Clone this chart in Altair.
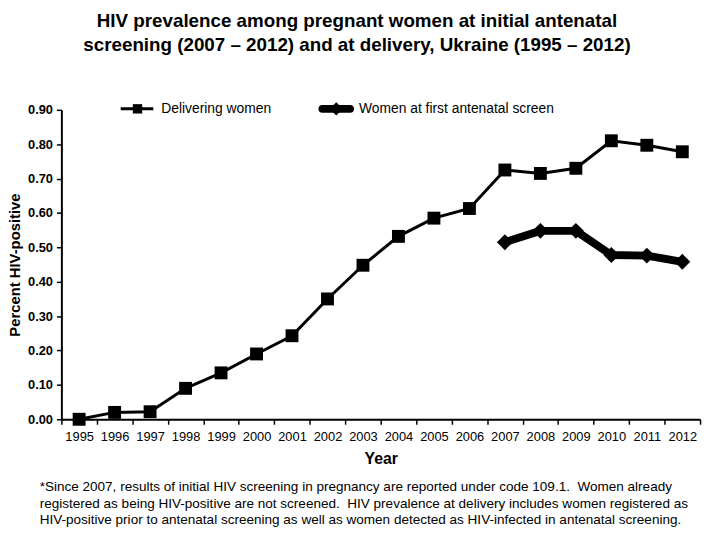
import altair as alt
import pandas as pd

years = list(range(1995, 2013))
delivering = [0.00, 0.020, 0.022, 0.090, 0.135, 0.190, 0.243, 0.350, 0.448, 0.532,
              0.585, 0.613, 0.725, 0.715, 0.730, 0.810, 0.797, 0.778]
antenatal_years = [2007, 2008, 2009, 2010, 2011, 2012]
antenatal = [0.515, 0.548, 0.548, 0.478, 0.476, 0.458]
y_ticks = [0.0, 0.1, 0.2, 0.3, 0.4, 0.5, 0.6, 0.7, 0.8, 0.9]

title_lines = ["HIV prevalence among pregnant women at initial antenatal",
               "screening (2007 \u2013 2012) and at delivery, Ukraine (1995 \u2013 2012)"]
footnote = ("*Since 2007, results of initial HIV screening in pregnancy are reported under code 109.1.\u00a0 Women already\n"
            "registered as being HIV-positive are not screened.\u00a0 HIV prevalence at delivery includes women registered as\n"
            "HIV-positive prior to antenatal screening as well as women detected as HIV-infected in antenatal screening.")

FONT = "Liberation Sans"
W, H = 646, 313

df_d = pd.DataFrame({"Year": years, "Value": delivering})
df_a = pd.DataFrame({"Year": antenatal_years, "Value": antenatal})

x = alt.X("Year:O",
          scale=alt.Scale(type="band", domain=years, paddingInner=0, paddingOuter=0),
          axis=alt.Axis(title="Year", labelAngle=0, tickBand="extent", labelFont=FONT,
                        labelFontSize=13, labelColor="black", titleFont=FONT,
                        titleFontSize=16, titleFontWeight="bold", titleColor="black",
                        domainColor="black", domainWidth=2, tickColor="black",
                        tickWidth=1.5, tickSize=5, labelPadding=6, titlePadding=8))
y = alt.Y("Value:Q",
          scale=alt.Scale(domain=[0, 0.9], nice=False, zero=True),
          axis=alt.Axis(title="Percent HIV-positive", values=y_ticks, format=".2f",
                        labelFont=FONT, labelFontSize=13, labelFontWeight="bold",
                        labelColor="black", titleFont=FONT, titleFontSize=15,
                        titleFontWeight="bold", titleColor="black", domainColor="black",
                        domainWidth=2, tickColor="black", tickWidth=1.5, tickSize=5,
                        labelPadding=4, titlePadding=5, grid=False))

line_d = alt.Chart(df_d).mark_line(color="black", strokeWidth=3).encode(x=x, y=y)
pts_d = alt.Chart(df_d).mark_point(shape="square", filled=True, color="black", opacity=1,
                                   size=170).encode(x=x, y=y)
line_a = alt.Chart(df_a).mark_line(color="black", strokeWidth=8, strokeJoin="round").encode(x=x, y=y)
pts_a = alt.Chart(df_a).mark_point(shape="diamond", filled=True, color="black", opacity=1,
                                   size=260).encode(x=x, y=y)

# legend
leg1 = pd.DataFrame({"label": ["Delivering women"]})
leg2 = pd.DataFrame({"label": ["Women at first antenatal screen"]})
leg1_rule = alt.Chart(leg1).mark_rule(color="black", strokeWidth=3).encode(
    x=alt.value(60), x2=alt.value(93), y=alt.value(-1))
leg1_pt = alt.Chart(leg1).mark_point(shape="square", filled=True, color="black", opacity=1,
                                     size=90).encode(x=alt.value(77), y=alt.value(-1))
leg1_txt = alt.Chart(leg1).mark_text(align="left", baseline="middle", font=FONT, fontSize=14,
                                     color="black").encode(x=alt.value(101), y=alt.value(-1), text="label:N")
leg2_rule = alt.Chart(leg2).mark_rule(color="black", strokeWidth=8, strokeCap="round").encode(
    x=alt.value(264), x2=alt.value(292), y=alt.value(-1))
leg2_pt = alt.Chart(leg2).mark_point(shape="diamond", filled=True, color="black", opacity=1,
                                     size=180).encode(x=alt.value(278), y=alt.value(-1))
leg2_txt = alt.Chart(leg2).mark_text(align="left", baseline="middle", font=FONT, fontSize=14,
                                     color="black").encode(x=alt.value(301), y=alt.value(-1), text="label:N")

foot_df = pd.DataFrame({"t": [footnote]})
foot = alt.Chart(foot_df).mark_text(align="left", baseline="top", font=FONT, fontSize=13.7,
                                    lineBreak="\n", lineHeight=16.5, color="black").encode(
    x=alt.value(-22), y=alt.value(375), text="t:N")

chart = alt.layer(line_d, pts_d, line_a, pts_a, leg1_rule, leg1_pt, leg1_txt,
                  leg2_rule, leg2_pt, leg2_txt, foot).properties(
    width=W, height=H,
    title=alt.TitleParams(title_lines, font=FONT, fontSize=19, fontWeight="bold",
                          color="black", lineHeight=24, anchor="middle", offset=48, dx=-24),
    autosize=alt.AutoSizeParams(type="none"),
    padding={"left": 54, "top": 100, "right": 4, "bottom": 110},
).configure_view(stroke=None)

chart.save("out.html", embed_options={"renderer": "svg", "actions": False})
